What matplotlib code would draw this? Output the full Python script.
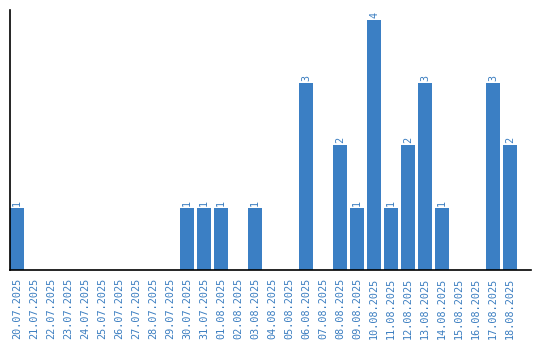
import matplotlib
matplotlib.use("Agg")
import matplotlib.pyplot as plt

dates = ["20.07.2025", "21.07.2025", "22.07.2025", "23.07.2025", "24.07.2025",
         "25.07.2025", "26.07.2025", "27.07.2025", "28.07.2025", "29.07.2025",
         "30.07.2025", "31.07.2025", "01.08.2025", "02.08.2025", "03.08.2025",
         "04.08.2025", "05.08.2025", "06.08.2025", "07.08.2025", "08.08.2025",
         "09.08.2025", "10.08.2025", "11.08.2025", "12.08.2025", "13.08.2025",
         "14.08.2025", "15.08.2025", "16.08.2025", "17.08.2025", "18.08.2025"]
values = [1, 0, 0, 0, 0, 0, 0, 0, 0, 0,
          1, 1, 1, 0, 1, 0, 0, 3, 0, 2,
          1, 4, 1, 2, 3, 1, 0, 0, 3, 2]

bar_color = "#3b7fc4"
text_color = "#3a7dc0"

fig = plt.figure(figsize=(5.4, 3.4), dpi=100)
ax = fig.add_axes([10/540, 70/340, 521/540, 260/340])

x = list(range(len(dates)))
ax.bar(x, values, width=14/17, color=bar_color)

for xi, v in zip(x, values):
    if v > 0:
        ax.text(xi, v + 0.03, str(v), rotation=90, ha="center", va="bottom",
                color=text_color, fontsize=7.3, family="DejaVu Sans Mono")

ax.set_xlim(-7/17, (531 - 17) / 17)
ax.set_ylim(0, 260 / 62.5)
ax.set_xticks(x)
ax.set_xticklabels(dates, rotation=90, color=text_color, fontsize=7.3,
                   family="DejaVu Sans Mono")
ax.tick_params(axis="x", length=0, pad=5.5)
ax.set_yticks([])
for s in ["top", "right"]:
    ax.spines[s].set_visible(False)
ax.spines["left"].set_linewidth(1.2)
ax.spines["bottom"].set_linewidth(1.2)

fig.savefig("out.png", dpi=100)
